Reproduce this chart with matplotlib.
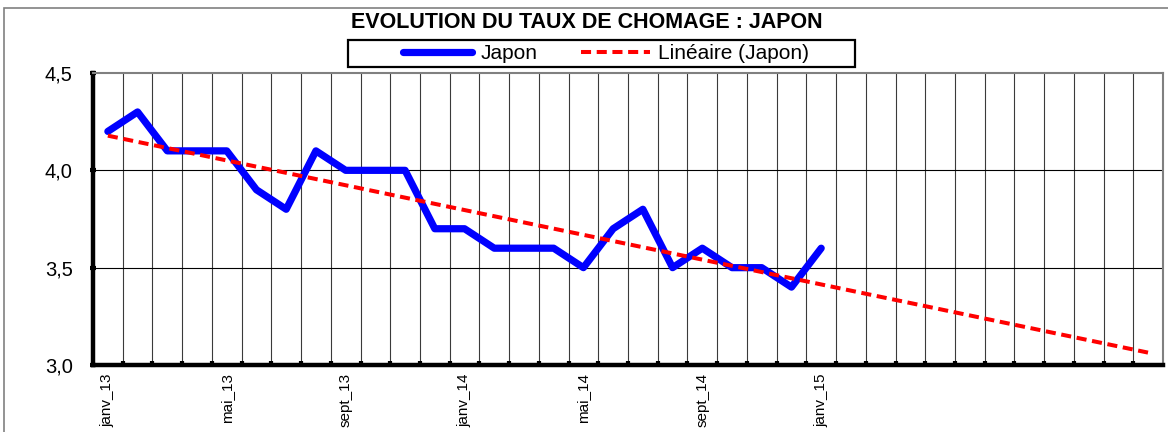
import numpy as np
import matplotlib
matplotlib.use("Agg")
import matplotlib.pyplot as plt
from matplotlib.patches import Rectangle
from matplotlib.lines import Line2D

plt.rcParams['font.family'] = ['Liberation Sans', 'DejaVu Sans']

# données
mois = ["janv", "févr", "mars", "avr", "mai", "juin",
        "juil", "août", "sept", "oct", "nov", "déc"]
annees = ["13", "14", "15"]
categories = [f"{m}_{a}" for a in annees for m in mois]
taux_japon = [4.2, 4.3, 4.1, 4.1, 4.1, 3.9, 3.8, 4.1, 4.0, 4.0, 4.0, 3.7,
              3.7, 3.6, 3.6, 3.6, 3.5, 3.7, 3.8, 3.5, 3.6, 3.5, 3.5, 3.4,
              3.6]

n_cat = len(categories)
n_obs = len(taux_japon)
x = np.arange(n_obs)

# tendance linéaire (Excel), prolongée jusqu'à la fin de l'axe
pente, origine = np.polyfit(x, taux_japon, 1)
x_tend = np.arange(n_cat)
y_tend = origine + pente * x_tend

W, H = 1168, 432
fig = plt.figure(figsize=(W / 100, H / 100), dpi=100)
ax = fig.add_axes([93 / W, 1 - 365 / H, 1070 / W, 292 / H])

# cadre extérieur
fig.patches.append(Rectangle((4 / W, -0.2), 1.2, 1.2 - 8 / H,
                             transform=fig.transFigure, fill=False,
                             edgecolor="#808080", linewidth=1.2))

# quadrillage
for b in range(1, n_cat):
    ax.axvline(b - 0.5, color="#3a3a3a", linewidth=0.8, zorder=1)
for v in [3.5, 4.0]:
    ax.axhline(v, color="black", linewidth=0.8, zorder=1)

tirets = (0, (2.5, 1.4))
ax.plot(x, taux_japon, color="#0000ff", linewidth=5.2,
        solid_capstyle="round", solid_joinstyle="round", zorder=3)
ax.plot(x_tend, y_tend, color="#ff0000", linewidth=2.9,
        linestyle=tirets, zorder=4)

ax.set_xlim(-0.5, n_cat - 0.5)
ax.set_ylim(3.0, 4.5)

ax.set_yticks([3.0, 3.5, 4.0, 4.5])
ax.set_yticklabels(["3,0", "3,5", "4,0", "4,5"], fontsize=14.5)
ax.tick_params(axis="y", direction="inout", length=5, width=3, pad=12)

pos_lab = np.arange(0, n_obs, 4)
ax.set_xticks(pos_lab)
ax.set_xticklabels([categories[i] for i in pos_lab], rotation=90,
                   fontsize=11, va="top")
ax.set_xticks(np.arange(0.5, n_cat - 0.5, 1), minor=True)
ax.tick_params(axis="x", which="major", length=0, pad=6)
ax.tick_params(axis="x", which="minor", direction="in", length=3, width=3)

for s in ["left", "bottom"]:
    ax.spines[s].set_linewidth(3.2)
    ax.spines[s].set_color("black")
for s in ["top", "right"]:
    ax.spines[s].set_linewidth(1.5)
    ax.spines[s].set_color("#808080")

fig.text(587 / W, 1 - 23 / H, "EVOLUTION DU TAUX DE CHOMAGE : JAPON",
         ha="center", va="center", fontsize=15.5, fontweight="bold")

# légende
fig.patches.append(Rectangle((348 / W, 1 - 67 / H), 507 / W, 27 / H,
                             transform=fig.transFigure, fill=True,
                             facecolor="white", edgecolor="black",
                             linewidth=1.6, zorder=5))
poignees = [Line2D([], [], color="#0000ff", linewidth=5.2,
                   solid_capstyle="round"),
            Line2D([], [], color="#ff0000", linewidth=2.9, linestyle=tirets)]
leg = fig.legend(poignees, ["Japon", "Linéaire (Japon)"], ncol=2,
                 loc="center", bbox_to_anchor=(606 / W, 1 - 53.5 / H),
                 fontsize=15, frameon=False, handlelength=3.3,
                 handletextpad=0.4, columnspacing=2.1, borderpad=0,
                 borderaxespad=0)
leg.set_zorder(6)

fig.savefig("out.png", dpi=100)
